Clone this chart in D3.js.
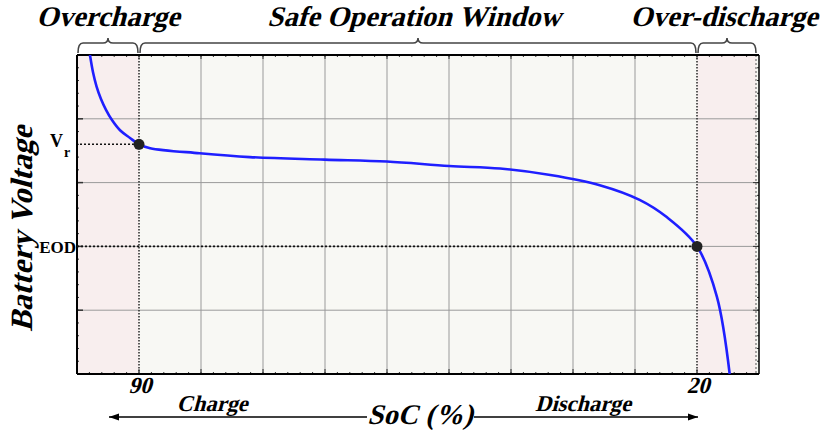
<!DOCTYPE html>
<html>
<head>
<meta charset="utf-8">
<script src="https://cdn.jsdelivr.net/npm/d3@7"></script>
<style>
  html, body { margin: 0; padding: 0; background: #fff; }
  svg { display: block; }
</style>
</head>
<body>
<div id="chart"></div>
<script>
// SoC (%) read along the curve, and battery voltage (arbitrary units, grid = 1)
const socValues  = [96.15, 95.77, 95.33, 94.77, 94.14, 93.39, 92.38, 91.13, 90.0, 88.6, 82.4, 76.1, 66.7, 58.9, 51.1, 44.7, 38.4, 32.2, 27.2, 23.8, 20.0, 17.5, 15.9];
const voltValues = [5.00, 4.73, 4.51, 4.31, 4.14, 3.98, 3.82, 3.70, 3.60, 3.54, 3.46, 3.40, 3.36, 3.33, 3.26, 3.22, 3.12, 2.96, 2.73, 2.46, 2.00, 1.21, 0.00];

const socTicks = [90, 20];
const socTickLabels = ["90", "20"];
const voltMarks = [3.6, 2.0];          // V_r and EOD
const voltMarkLabels = ["V", "EOD"];

const regions = [
  { name: "Overcharge", from: null, to: 90 },
  { name: "Safe Operation Window", from: 90, to: 20 },
  { name: "Over-discharge", from: 20, to: null }
];

const serif = "'Liberation Serif', 'Times New Roman', Times, serif";
const slant = -15;   // fake italic: bold serif, skewed

const width = 823, height = 431;
const plot = { left: 77, right: 759, top: 55, bottom: 374 };
const step = 70 / 9;                    // one grid column in SoC units

const x = d3.scaleLinear()
  .domain([90 + step, 20 - step])
  .range([plot.left, plot.right]);
const y = d3.scaleLinear()
  .domain([0, 5])
  .range([plot.bottom, plot.top]);

const svg = d3.select("#chart").append("svg")
  .attr("width", width)
  .attr("height", height)
  .style("font-family", serif)
  .style("font-weight", "bold");

svg.append("defs").append("clipPath").attr("id", "plotClip")
  .append("rect")
  .attr("x", plot.left).attr("y", plot.top)
  .attr("width", plot.right - plot.left).attr("height", plot.bottom - plot.top);

// background bands
svg.append("rect")
  .attr("x", plot.left).attr("y", plot.top)
  .attr("width", plot.right - plot.left).attr("height", plot.bottom - plot.top)
  .attr("fill", "#f8f8f4");
svg.append("rect")
  .attr("x", x(x.domain()[0])).attr("y", plot.top)
  .attr("width", x(90) - x(x.domain()[0])).attr("height", plot.bottom - plot.top)
  .attr("fill", "#f8eeee");
svg.append("rect")
  .attr("x", x(20)).attr("y", plot.top)
  .attr("width", x(x.domain()[1]) - x(20) - 3).attr("height", plot.bottom - plot.top)
  .attr("fill", "#f8eeee");

// grid
const xGrid = d3.range(1, 11).map(i => x.domain()[0] - i * step);
const yGrid = d3.range(1, 5);
const grid = svg.append("g").attr("stroke", "#9a9a9a").attr("stroke-width", 1);
grid.selectAll("line.v").data(xGrid.filter(d => Math.abs(d - 90) > 0.1 && Math.abs(d - 20) > 0.1))
  .enter().append("line")
  .attr("x1", d => x(d)).attr("x2", d => x(d))
  .attr("y1", plot.top).attr("y2", plot.bottom);
grid.selectAll("line.h").data(yGrid)
  .enter().append("line")
  .attr("x1", plot.left).attr("x2", plot.right)
  .attr("y1", d => y(d)).attr("y2", d => y(d));

// dotted boundaries at 90 and 20
svg.selectAll("line.bound").data(socTicks)
  .enter().append("line")
  .attr("x1", d => x(d)).attr("x2", d => x(d))
  .attr("y1", plot.top).attr("y2", plot.bottom)
  .attr("stroke", "#333").attr("stroke-width", 1.6)
  .attr("stroke-dasharray", "1.5,1.5");
svg.append("line")
  .attr("x1", plot.right - 3).attr("x2", plot.right - 3)
  .attr("y1", plot.top).attr("y2", plot.bottom)
  .attr("stroke", "#555").attr("stroke-width", 1)
  .attr("stroke-dasharray", "2,2");

// minor & major ticks on frame
const ticks = svg.append("g").attr("stroke", "#333").attr("stroke-width", 1);
const minorX = d3.range(0, 55).map(i => x.domain()[0] - i * step / 5);
ticks.selectAll("line.mt").data(minorX).enter().append("line")
  .attr("x1", d => x(d)).attr("x2", d => x(d))
  .attr("y1", plot.top).attr("y2", plot.top + 2);
ticks.selectAll("line.mb").data(minorX).enter().append("line")
  .attr("x1", d => x(d)).attr("x2", d => x(d))
  .attr("y1", plot.bottom).attr("y2", plot.bottom - 2);
ticks.selectAll("line.Mt").data(xGrid).enter().append("line")
  .attr("x1", d => x(d)).attr("x2", d => x(d))
  .attr("y1", plot.top).attr("y2", plot.top + 4);
ticks.selectAll("line.Mb").data(xGrid).enter().append("line")
  .attr("x1", d => x(d)).attr("x2", d => x(d))
  .attr("y1", plot.bottom).attr("y2", plot.bottom - 5);
const minorY = d3.range(0, 25).map(i => i / 5);
ticks.selectAll("line.mr").data(minorY).enter().append("line")
  .attr("x1", plot.right).attr("x2", plot.right - 2)
  .attr("y1", d => y(d)).attr("y2", d => y(d));
ticks.selectAll("line.ml").data(minorY).enter().append("line")
  .attr("x1", plot.left).attr("x2", plot.left + 2)
  .attr("y1", d => y(d)).attr("y2", d => y(d));
ticks.selectAll("line.Ml").data(yGrid).enter().append("line")
  .attr("x1", plot.left).attr("x2", plot.left + 6)
  .attr("y1", d => y(d)).attr("y2", d => y(d)).attr("stroke-width", 1.5);
ticks.selectAll("line.Mr").data(yGrid).enter().append("line")
  .attr("x1", plot.right).attr("x2", plot.right - 6)
  .attr("y1", d => y(d)).attr("y2", d => y(d));

// frame
svg.append("line").attr("x1", plot.left).attr("x2", plot.right).attr("y1", plot.top).attr("y2", plot.top)
  .attr("stroke", "#000").attr("stroke-width", 2);
svg.append("line").attr("x1", plot.left).attr("x2", plot.right).attr("y1", plot.bottom).attr("y2", plot.bottom)
  .attr("stroke", "#000").attr("stroke-width", 2);
svg.append("line").attr("x1", plot.left).attr("x2", plot.left).attr("y1", plot.top).attr("y2", plot.bottom)
  .attr("stroke", "#000").attr("stroke-width", 2);
svg.append("line").attr("x1", plot.right).attr("x2", plot.right).attr("y1", plot.top).attr("y2", plot.bottom)
  .attr("stroke", "#000").attr("stroke-width", 1.5);

// reference dotted lines V_r and EOD
svg.append("line")
  .attr("x1", plot.left + 3).attr("x2", x(90))
  .attr("y1", y(voltMarks[0])).attr("y2", y(voltMarks[0]))
  .attr("stroke", "#111").attr("stroke-width", 1.6).attr("stroke-dasharray", "2,2");
svg.append("line")
  .attr("x1", plot.left).attr("x2", x(20))
  .attr("y1", y(voltMarks[1])).attr("y2", y(voltMarks[1]))
  .attr("stroke", "#111").attr("stroke-width", 1.6).attr("stroke-dasharray", "2,2");

// curve
const line = d3.line()
  .x((d, i) => x(socValues[i]))
  .y(d => y(d))
  .curve(d3.curveCatmullRom.alpha(0.5));
svg.append("path")
  .datum(voltValues)
  .attr("clip-path", "url(#plotClip)")
  .attr("fill", "none")
  .attr("stroke", "#1f1fff")
  .attr("stroke-width", 2.6)
  .attr("d", line);

// marker dots
svg.selectAll("circle.pt").data([[90, voltMarks[0]], [20, voltMarks[1]]])
  .enter().append("circle")
  .attr("cx", d => x(d[0])).attr("cy", d => y(d[1]))
  .attr("r", 5.5).attr("fill", "#222");

// y labels V_r, EOD
const vr = svg.append("text")
  .attr("x", 50).attr("y", 147)
  .attr("font-size", 18);
vr.append("tspan").text(voltMarkLabels[0]);
vr.append("tspan").attr("font-size", 14).attr("dy", 10).attr("dx", 1).text("r");
svg.append("text")
  .attr("x", plot.left - 1).attr("y", 253)
  .attr("text-anchor", "end").attr("font-size", 17)
  .text(voltMarkLabels[1]);

// slanted label helper
function slanted(tx, ty, size, txt, rot) {
  return svg.append("text")
    .attr("transform", `translate(${tx},${ty})${rot ? " rotate(" + rot + ")" : ""} skewX(${slant})`)
    .attr("text-anchor", "middle")
    .attr("font-size", size)
    .text(txt);
}

// x tick labels
socTicks.forEach((d, i) => slanted(x(d) + 1, 393, 23, socTickLabels[i]));

// axis titles
slanted(32, 229, 31, "Battery Voltage", -90);
slanted(420, 424, 28.5, "SoC (%)");
slanted(212, 411, 22.5, "Charge");
slanted(583, 411, 22.5, "Discharge");

// arrows
const defs = svg.select("defs");
defs.append("marker").attr("id", "arrow")
  .attr("viewBox", "0 0 10 10").attr("refX", 10).attr("refY", 5)
  .attr("markerWidth", 10).attr("markerHeight", 10).attr("markerUnits", "userSpaceOnUse")
  .attr("orient", "auto")
  .append("path").attr("d", "M0,1.5L10,5L0,8.5Z").attr("fill", "#000");
svg.append("line")
  .attr("x1", 367).attr("x2", 109).attr("y1", 417).attr("y2", 417)
  .attr("stroke", "#000").attr("stroke-width", 1.3).attr("marker-end", "url(#arrow)");
svg.append("line")
  .attr("x1", 474).attr("x2", x(20) + 1).attr("y1", 417).attr("y2", 417)
  .attr("stroke", "#000").attr("stroke-width", 1.3).attr("marker-end", "url(#arrow)");

// braces and region titles
function brace(x0, x1, yb, yt, tip) {
  const xm = (x0 + x1) / 2, r = 5;
  return `M${x0},${yb} Q${x0},${yt} ${x0 + r},${yt} L${xm - r},${yt} Q${xm},${yt} ${xm},${yt - tip}` +
         ` Q${xm},${yt} ${xm + r},${yt} L${x1 - r},${yt} Q${x1},${yt} ${x1},${yb}`;
}
const regionX = regions.map(r => [
  r.from === null ? plot.left + 1 : x(r.from) + 1,
  r.to === null ? plot.right - 3 : x(r.to) - 1
]);
svg.selectAll("path.brace").data(regions)
  .enter().append("path")
  .attr("d", (d, i) => brace(regionX[i][0], regionX[i][1], 53, 43, 5))
  .attr("fill", "none").attr("stroke", "#444").attr("stroke-width", 1.6);
const titleX = [108, 414, 724];
regions.forEach((d, i) => slanted(titleX[i], 26, 28.5, d.name));
</script>
</body>
</html>
